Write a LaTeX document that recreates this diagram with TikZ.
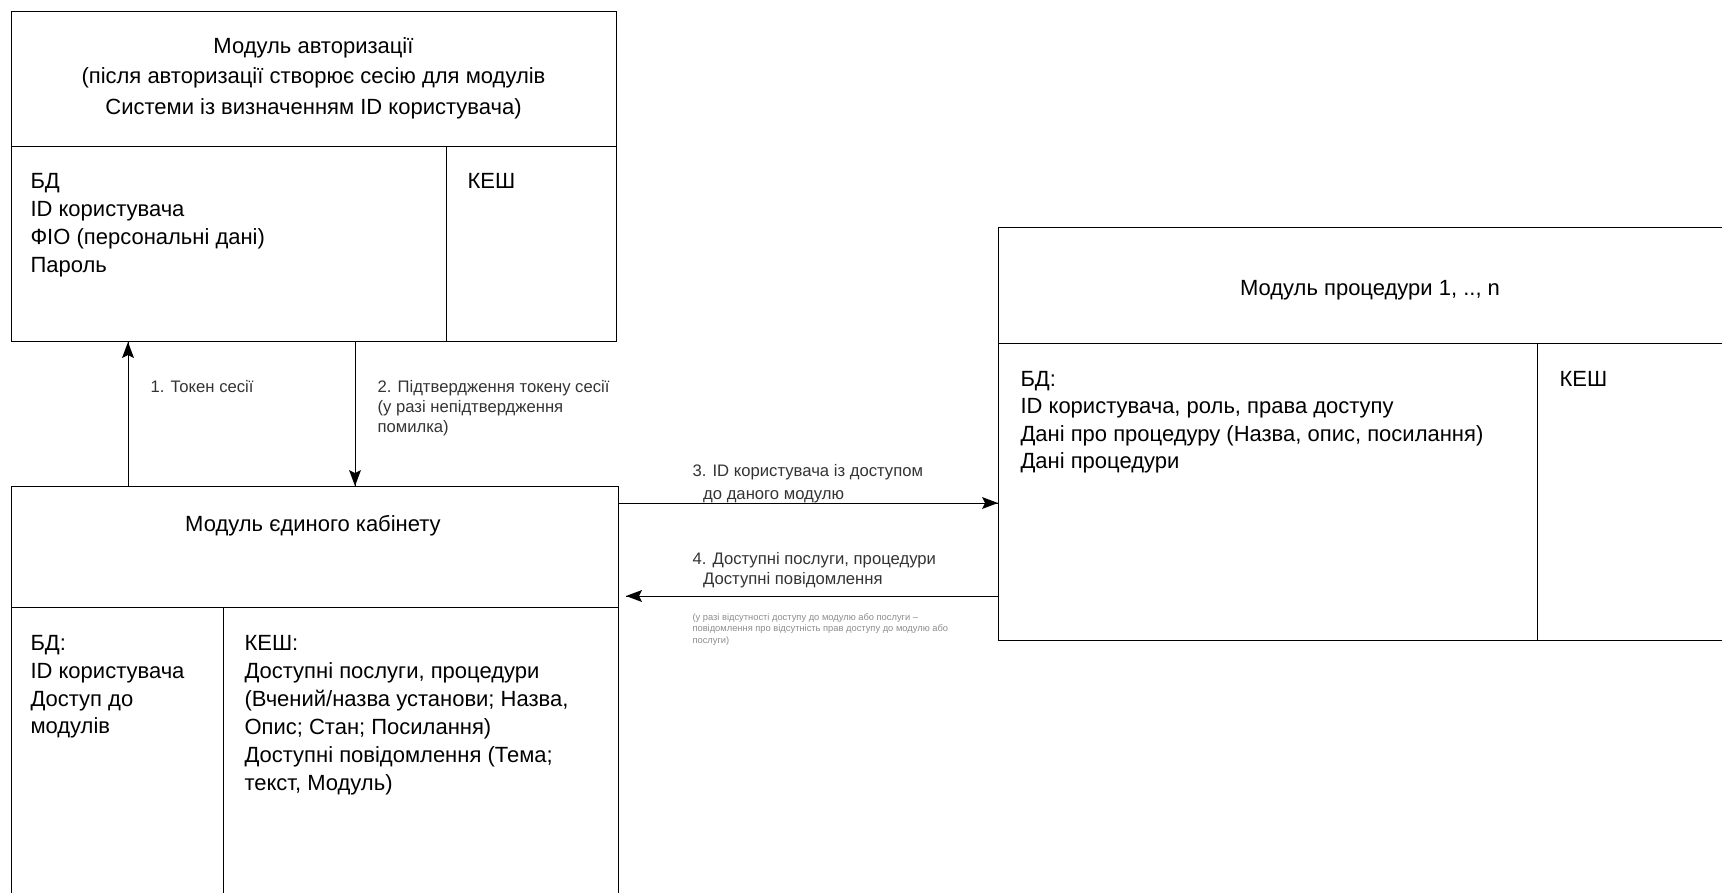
\documentclass[tikz,border=0pt]{standalone}
\usepackage{fontspec}
\setmainfont{Liberation Sans}

\tikzset{every picture/.style={line width=0.75pt}}
\tikzset{
  modbox/.style={draw, rectangle, inner sep=0pt, anchor=north west},
  ttl/.style={inner sep=0.75pt, anchor=north, align=center, font=\fontsize{16.5}{22.9}\selectfont},
  txt/.style={inner sep=0.75pt, anchor=north west, align=left, font=\fontsize{16.5}{21}\selectfont},
  lbl/.style={inner sep=0.75pt, anchor=north west, align=left, text=black!80, font=\fontsize{12.5}{15}\selectfont},
  note/.style={inner sep=0.75pt, anchor=north west, align=left, text=black!45, font=\fontsize{7}{8.6}\selectfont},
}

\begin{document}
\begin{tikzpicture}[x=0.75pt,y=0.75pt,yscale=-1,xscale=1]
\path [use as bounding box, clip] (0,0) rectangle (1722,892);

%Shape: Rectangle [id:auth] 
\node [modbox, minimum width=453.75pt, minimum height=247.5pt] (auth) at (11,11) {};
%Straight Lines [id:authdiv] 
\draw    (11,146) -- (616,146) ;
\draw    (446,146) -- (446,341) ;

%Shape: Rectangle [id:cab] 
\node [modbox, minimum width=455.25pt, minimum height=318pt] (cab) at (11,486) {};
%Straight Lines [id:cabdiv] 
\draw    (11,607) -- (618,607) ;
\draw    (223,607) -- (223,910) ;

%Shape: Rectangle [id:proc] 
\node [modbox, minimum width=560.25pt, minimum height=309.75pt] (proc) at (998,227) {};
%Straight Lines [id:procdiv] 
\draw    (998,343) -- (1745,343) ;
\draw    (1537,343) -- (1537,640) ;

% Text Node
\node [ttl] (authT) at (313.5,36) {Модуль авторизації\\(після авторизації створює сесію для модулів\\Системи із визначенням ID користувача)};
% Text Node
\node [txt] (authDB) at (29,172) {БД\\ID користувача\\ФІО (персональні дані)\\Пароль};
% Text Node
\node [txt] (authKesh) at (466,172) {КЕШ};
% Text Node
\node [ttl] (cabT) at (313,514) {Модуль єдиного кабінету};
% Text Node
\node [txt, font=\fontsize{16.5}{20.8}\selectfont] (cabDB) at (29,634) {БД:\\ID користувача\\Доступ до\\модулів};
% Text Node
\node [txt] (cabKesh) at (243,634) {КЕШ:\\Доступні послуги, процедури\\(Вчений/назва установи; Назва,\\Опис; Стан; Посилання)\\Доступні повідомлення (Тема;\\текст, Модуль)};
% Text Node
\node [ttl] (procT) at (1370,279) {Модуль процедури 1, .., n};
% Text Node
\node [txt, font=\fontsize{16.5}{20.5}\selectfont] (procDB) at (1019,370) {БД:\\ID користувача, роль, права доступу\\Дані про процедуру (Назва, опис, посилання)\\Дані процедури};
% Text Node
\node [txt] (procKesh) at (1558,370) {КЕШ};

% Text Node
\node [lbl] (l1) at (149,379) {1. Токен сесії};
% Text Node
\node [lbl] (l2) at (376,379) {2. Підтвердження токену сесії\\(у разі непідтвердження\\помилка)};
% Text Node
\node [lbl, font=\fontsize{12.5}{17.25}\selectfont] (l3) at (691,463) {3. ID користувача із доступом\\\hspace*{8pt}до даного модулю};
% Text Node
\node [lbl] (l4) at (691,551) {4. Доступні послуги, процедури\\\hspace*{8pt}Доступні повідомлення};
% Text Node
\node [note] (n4) at (691,612) {(у разі відсутності доступу до модулю або послуги --\\повідомлення про відсутність прав доступу до модулю або\\послуги)};

\coordinate (tok) at (128,0);
\coordinate (conf) at (355,0);
\coordinate (req) at (0,503);
\coordinate (resp) at (626,596);

% Connection
\draw    (cab.north -| tok) -- (auth.south -| tok) ;
\draw [shift={(auth.south -| tok)}, rotate = 90] [fill=black ][line width=0.08]  [draw opacity=0] (16,-6) -- (0,0) -- (16,6) -- (13,0) -- cycle    ;
% Connection
\draw    (auth.south -| conf) -- (cab.north -| conf) ;
\draw [shift={(cab.north -| conf)}, rotate = 270] [fill=black ][line width=0.08]  [draw opacity=0] (16,-6) -- (0,0) -- (16,6) -- (13,0) -- cycle    ;
% Connection
\draw    (cab.east |- req) -- (proc.west |- req) ;
\draw [shift={(proc.west |- req)}, rotate = 180] [fill=black ][line width=0.08]  [draw opacity=0] (16,-6) -- (0,0) -- (16,6) -- (13,0) -- cycle    ;
% Connection
\draw    (proc.west |- resp) -- (resp) ;
\draw [shift={(resp)}, rotate = 0] [fill=black ][line width=0.08]  [draw opacity=0] (16,-6) -- (0,0) -- (16,6) -- (13,0) -- cycle    ;

\end{tikzpicture}
\end{document}
